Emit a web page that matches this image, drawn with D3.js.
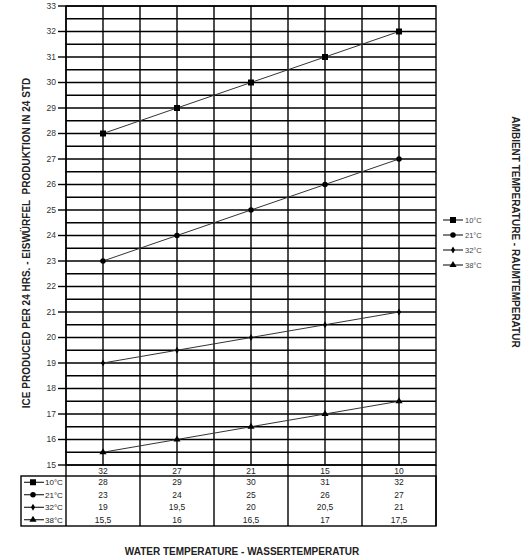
<!DOCTYPE html>
<html><head><meta charset="utf-8">
<script src="https://cdn.jsdelivr.net/npm/d3@7"></script>
<style>body{margin:0;background:#fff}svg{display:block;font-family:"Liberation Sans",Arial,sans-serif}</style>
</head><body>
<script>
const waterTemps = ["32","27","21","15","10"];
const seriesNames = ["10°C","21°C","32°C","38°C"];
const ice10 = [28,29,30,31,32];
const ice21 = [23,24,25,26,27];
const ice32 = [19,19.5,20,20.5,21];
const ice38 = [15.5,16,16.5,17,17.5];
const yTicks = d3.range(15,34,1);
const symbols = ["square","circle","diamond","triangle"];
const seriesValues = [ice10, ice21, ice32, ice38];

const W=523,H=558;
const svg=d3.select("body").append("svg").attr("width",W).attr("height",H);
const L=66,R=436,T=6,B=465;
const x=d3.scaleBand().domain(waterTemps).range([L,R]).padding(0);
const y=d3.scaleLinear().domain([15,33]).range([B,T]);
const xc=d=>x(d)+x.bandwidth()/2;

function sym(g,type,cx,cy){
  let s;
  if(type==="square") s=d3.symbol(d3.symbolSquare,36);
  else if(type==="circle") s=d3.symbol(d3.symbolCircle,24);
  else if(type==="diamond") s=d3.symbol(d3.symbolDiamond,14);
  else s=d3.symbol(d3.symbolTriangle,22);
  g.append("path").attr("d",s()).attr("transform",`translate(${cx},${cy})`).attr("fill","#000");
}

// grid
const grid=svg.append("g").attr("stroke","#000").attr("stroke-width",1.4);
d3.range(15,33.01,0.5).forEach(v=>grid.append("line").attr("x1",L).attr("x2",R).attr("y1",y(v)).attr("y2",y(v)));
waterTemps.forEach(d=>{
  grid.append("line").attr("x1",x(d)).attr("x2",x(d)).attr("y1",T).attr("y2",B);
  grid.append("line").attr("x1",xc(d)).attr("x2",xc(d)).attr("y1",T).attr("y2",B);
});
grid.append("rect").attr("x",L).attr("y",T).attr("width",R-L).attr("height",B-T).attr("fill","none");

// y axis ticks
const ya=svg.append("g");
yTicks.forEach(v=>{
  ya.append("line").attr("x1",L-8).attr("x2",L).attr("y1",y(v)).attr("y2",y(v)).attr("stroke","#000").attr("stroke-width",1.4);
  ya.append("text").attr("x",L-10).attr("y",y(v)).attr("dy","0.35em").attr("text-anchor","end").attr("font-size",8.5).attr("fill","#333").text(v);
});

// series
const line=d3.line().x((d,i)=>xc(waterTemps[i])).y(d=>y(d));
seriesValues.forEach((vals,k)=>{
  svg.append("path").attr("d",line(vals)).attr("fill","none").attr("stroke","#333").attr("stroke-width",1);
  vals.forEach((v,i)=>sym(svg,symbols[k],xc(waterTemps[i]),y(v)));
});

// table
const tb=svg.append("g");
const rowH=12.5, tTop=476, tL=21;
const tBot=tTop+rowH*4;
tb.append("rect").attr("x",tL).attr("y",tTop).attr("width",R-tL).attr("height",tBot-tTop).attr("fill","none").attr("stroke","#000").attr("stroke-width",1.4);
tb.append("line").attr("x1",L).attr("x2",L).attr("y1",B).attr("y2",tBot).attr("stroke","#000").attr("stroke-width",1.4);
tb.append("line").attr("x1",R).attr("x2",R).attr("y1",B).attr("y2",tBot).attr("stroke","#000").attr("stroke-width",1.4);
waterTemps.forEach((d,i)=>{
  if(i>0) tb.append("line").attr("x1",x(d)).attr("x2",x(d)).attr("y1",B).attr("y2",tBot).attr("stroke","#000").attr("stroke-width",1.4);
  tb.append("text").attr("x",xc(d)).attr("y",(B+tTop)/2).attr("dy","0.38em").attr("text-anchor","middle").attr("font-size",8.5).attr("fill","#222").text(d);
});
seriesValues.forEach((vals,k)=>{
  const cy=tTop+rowH*(k+0.5);
  tb.append("line").attr("x1",24).attr("x2",44).attr("y1",cy).attr("y2",cy).attr("stroke","#000").attr("stroke-width",1);
  sym(tb,symbols[k],33,cy);
  tb.append("text").attr("x",45).attr("y",cy).attr("dy","0.36em").attr("font-size",8).attr("fill","#222").text(seriesNames[k]);
  vals.forEach((v,i)=>{
    tb.append("text").attr("x",xc(waterTemps[i])).attr("y",cy).attr("dy","0.36em").attr("text-anchor","middle").attr("font-size",8.5).attr("fill","#222").text(String(v).replace(".",","));
  });
});

// right legend
const lg=svg.append("g");
seriesNames.forEach((n,k)=>{
  const cy=220+k*15;
  lg.append("line").attr("x1",443).attr("x2",463).attr("y1",cy).attr("y2",cy).attr("stroke","#000").attr("stroke-width",1);
  sym(lg,symbols[k],453,cy);
  lg.append("text").attr("x",465).attr("y",cy).attr("dy","0.36em").attr("font-size",7.5).attr("fill","#444").text(n);
});

// titles
svg.append("text").attr("transform","translate(26,243) rotate(-90)").attr("text-anchor","middle").attr("dy","0.35em").attr("font-size",10).attr("font-weight","bold").attr("fill","#222").attr("xml:space","preserve").text("ICE PRODUCED PER 24 HRS. - EISWÜRFEL  PRODUKTION IN 24 STD");
svg.append("text").attr("transform","translate(515,232) rotate(90)").attr("text-anchor","middle").attr("dy","0.35em").attr("font-size",10).attr("font-weight","bold").attr("fill","#222").text("AMBIENT TEMPERATURE - RAUMTEMPERATUR");
svg.append("text").attr("x",242).attr("y",551).attr("dy","0.35em").attr("text-anchor","middle").attr("font-size",10).attr("font-weight","bold").attr("fill","#222").text("WATER TEMPERATURE - WASSERTEMPERATUR");
</script>
</body></html>
